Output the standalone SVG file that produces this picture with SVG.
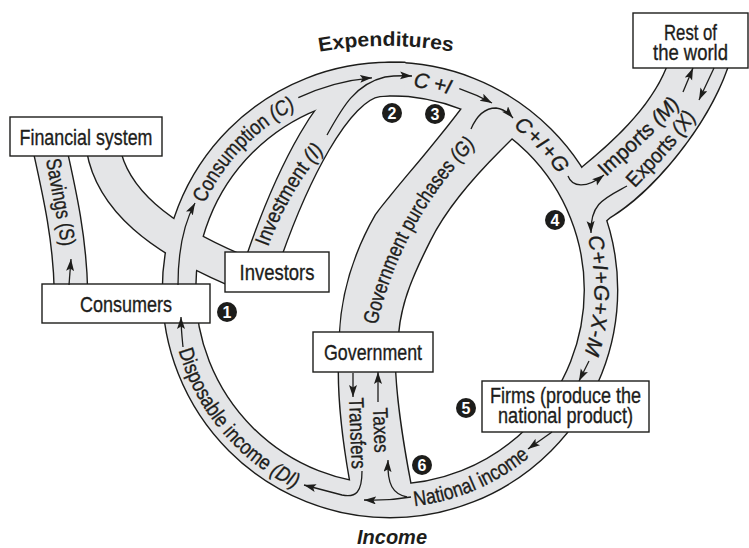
<svg xmlns="http://www.w3.org/2000/svg" xmlns:xlink="http://www.w3.org/1999/xlink" width="749" height="548" viewBox="0 0 749 548">
<defs>
<style>
.ol{fill:none;stroke:#1d1d1b;stroke-width:34.8}
.gf{fill:none;stroke:#e4e5e7;stroke-width:32}
.so{fill:#1d1d1b;stroke:#1d1d1b;stroke-width:2.8;stroke-linejoin:round}
.sf{fill:#e4e5e7;stroke:none}
.box{fill:#fff;stroke:#1d1d1b;stroke-width:1.4}
.t{font-family:"Liberation Sans",Arial,sans-serif;font-size:21px;fill:#1d1d1b;stroke:#1d1d1b;stroke-width:0.35}
.bt{font-family:"Liberation Sans",Arial,sans-serif;font-size:22px;fill:#1d1d1b;stroke:#1d1d1b;stroke-width:0.35;text-anchor:middle}
.i{font-style:italic}
.ar{fill:none;stroke:#1d1d1b;stroke-width:1.3;marker-end:url(#ah)}
.nc{fill:#1d1d1b}
.nt{font-family:"Liberation Sans",Arial,sans-serif;font-size:16px;font-weight:bold;fill:#fff;text-anchor:middle}
.hd{font-family:"Liberation Sans",Arial,sans-serif;font-size:20px;font-weight:bold;fill:#1d1d1b}
</style>
<marker id="ah" markerWidth="13" markerHeight="9" refX="12" refY="4" orient="auto" markerUnits="userSpaceOnUse"><path d="M0,0 L12,4 L0,8 L2.5,4 z" fill="#1d1d1b"/></marker>
<circle id="b-ring" cx="390" cy="290" r="211"/>
<path id="b-sav" d="M50,150 C60,195 70,240 71,292"/>
<path id="b-fin" d="M103,148 C112,200 160,238 235,270"/>
<path id="b-inv" d="M262,262 C290,180 335,85 378,80 A211,211 0 0 1 405,79"/>
<path id="b-gov" d="M353,506 L350,479 C344,445 339,405 339,372 L340,335 C342,290 356,250 376,215 C400,183 440,140 472,95 L522,128 L500,150 C470,180 445,210 430,240 C414,272 401,300 398,333 L395,372 C397,410 404,450 410,482 L413,506 Z"/>
<path id="b-imp" d="M575,175 L583,167 C610,145 650,110 667,68 L672,56 L732,56 L727,68 C705,130 650,193 610,217 L602,224 Z"/>
<path id="p-sav" d="M46,160 C51,190 59,225 63,258"/>
<path id="p-con" d="M204.7,203.6 A204.5,204.5 0 0 1 313.4,100.4"/>
<path id="p-inv" d="M268,247 C283,207 303,172 332,142"/>
<path id="p-ci" d="M413.1,86.8 A204.5,204.5 0 0 1 466.6,100.4"/>
<path id="p-cig" d="M513.1,126.7 A204.5,204.5 0 0 1 575.3,203.6"/>
<path id="p-all" d="M587.5,237.1 A204.5,204.5 0 0 1 579.6,366.6"/>
<path id="p-nat" d="M414.6,506.1 A217.5,217.5 0 0 0 556.6,429.8"/>
<path id="p-di" d="M178.5,350.6 A220,220 0 0 0 322,499.2"/>
<path id="p-gov" d="M377,325 C390,268 420,200 478,143"/>
<path id="p-imp" d="M606,177 C631,153 664,127 693,89"/>
<path id="p-exp" d="M635,188 C656,166 681,141 703,107"/>
<path id="p-tax" d="M373,408 L375,462"/>
<path id="p-tra" d="M349,398 L352,476"/>
<path id="p-title" d="M318,52 A380,380 0 0 1 454,52"/>
</defs>
<rect width="749" height="548" fill="#fff"/>

<g id="bands">
<g id="band-outlines">
<use xlink:href="#b-ring" class="ol"/>
<use xlink:href="#b-sav" class="ol"/>
<use xlink:href="#b-fin" class="ol"/>
<use xlink:href="#b-inv" class="ol"/>
<use xlink:href="#b-gov" class="so"/>
<use xlink:href="#b-imp" class="so"/>
</g>
<g id="band-fills">
<use xlink:href="#b-ring" class="gf"/>
<use xlink:href="#b-sav" class="gf"/>
<use xlink:href="#b-fin" class="gf"/>
<use xlink:href="#b-inv" class="gf"/>
<use xlink:href="#b-gov" class="sf"/>
<use xlink:href="#b-imp" class="sf"/>
</g>
</g>

<g id="financial"><rect class="box" x="10" y="117" width="152" height="39"/><text class="bt" x="86" y="144.5" textLength="133" lengthAdjust="spacingAndGlyphs">Financial system</text></g>
<g id="consumers"><rect class="box" x="42" y="284" width="168" height="39"/><text class="bt" x="126" y="311.5" textLength="92" lengthAdjust="spacingAndGlyphs">Consumers</text></g>
<g id="investors"><rect class="box" x="225" y="252" width="104" height="40"/><text class="bt" x="277" y="280" textLength="75" lengthAdjust="spacingAndGlyphs">Investors</text></g>
<g id="government"><rect class="box" x="313" y="332" width="120" height="40"/><text class="bt" x="373" y="360" textLength="98" lengthAdjust="spacingAndGlyphs">Government</text></g>
<g id="firms"><rect class="box" x="482" y="381" width="167" height="51"/><text class="bt" x="565.5" y="402.5" textLength="151" lengthAdjust="spacingAndGlyphs">Firms (produce the</text><text class="bt" x="565.5" y="422.5" textLength="135" lengthAdjust="spacingAndGlyphs">national product)</text></g>
<g id="rest-of-world"><rect class="box" x="633" y="13" width="115" height="55"/><text class="bt" x="690.5" y="40" textLength="53" lengthAdjust="spacingAndGlyphs">Rest of</text><text class="bt" x="690.5" y="60" textLength="75" lengthAdjust="spacingAndGlyphs">the world</text></g>

<g id="connectors">
<path class="ar" d="M69,285 L71,259"/>
<path class="ar" d="M178,285 C178,255 183,225 195,203"/>
<path class="ar" d="M298.3,97.7 A213,213 0 0 1 372,77.8"/>
<path class="ar" d="M327,135 C342,108 355,84 385,77 C395,75.5 402,75.5 412,76"/>
<path class="ar" d="M459.3,88.6 A213,213 0 0 1 492,103"/>
<path class="ar" d="M471,129 Q480,108 496,108 Q505,109 513,118"/>
<path class="ar" d="M568,176 C572,187 586,189 604,175"/>
<path class="ar" d="M683,92 L693,68"/>
<path class="ar" d="M714,68 L699,100"/>
<path class="ar" d="M627,186 C605,198 590,203 591,233"/>
<path class="ar" d="M589,361 L579,381"/>
<path class="ar" d="M552,432 L528,449"/>
<path class="ar" d="M411,497 Q388,501 364,500"/>
<path class="ar" d="M407,497 C393,494 387,485 388,460"/>
<path class="ar" d="M378,402 L378,372"/>
<path class="ar" d="M353,373 L353,397"/>
<path class="ar" d="M362,471 C362,492 356,498 342,495 L304,485"/>
<path class="ar" d="M183,347 C182,337 181,328 181,317"/>
</g>

<g id="labels">
<text class="t"><textPath xlink:href="#p-sav" textLength="88" lengthAdjust="spacingAndGlyphs">Savings (S)</textPath></text>
<text class="t"><textPath xlink:href="#p-con" textLength="134" lengthAdjust="spacingAndGlyphs">Consumption <tspan class="i">(C)</tspan></textPath></text>
<text class="t"><textPath xlink:href="#p-inv" textLength="112" lengthAdjust="spacingAndGlyphs">Investment <tspan class="i">(I)</tspan></textPath></text>
<text class="t i"><textPath xlink:href="#p-ci" textLength="37" lengthAdjust="spacing">C +I</textPath></text>
<text class="t"><textPath xlink:href="#p-gov" textLength="208" lengthAdjust="spacingAndGlyphs">Government purchases <tspan class="i">(G)</tspan></textPath></text>
<text class="t i"><textPath xlink:href="#p-cig" textLength="66" lengthAdjust="spacing">C+I+G</textPath></text>
<text class="t"><textPath xlink:href="#p-imp" textLength="104" lengthAdjust="spacingAndGlyphs">Imports <tspan class="i">(M)</tspan></textPath></text>
<text class="t"><textPath xlink:href="#p-exp" textLength="94" lengthAdjust="spacingAndGlyphs">Exports <tspan class="i">(X)</tspan></textPath></text>
<text class="t i"><textPath xlink:href="#p-all" textLength="118" lengthAdjust="spacing">C+I+G+X-M</textPath></text>
<text class="t"><textPath xlink:href="#p-nat" textLength="127" lengthAdjust="spacingAndGlyphs">National income</textPath></text>
<text class="t"><textPath xlink:href="#p-di" textLength="186" lengthAdjust="spacingAndGlyphs">Disposable income <tspan class="i">(DI)</tspan></textPath></text>
<text class="t"><textPath xlink:href="#p-tax" textLength="45" lengthAdjust="spacingAndGlyphs">Taxes</textPath></text>
<text class="t"><textPath xlink:href="#p-tra" textLength="71" lengthAdjust="spacingAndGlyphs">Transfers</textPath></text>
<text class="hd"><textPath xlink:href="#p-title" startOffset="50%" text-anchor="middle" textLength="134" lengthAdjust="spacingAndGlyphs">Expenditures</textPath></text>
<text class="hd i" x="392" y="544" text-anchor="middle">Income</text>
</g>

<g id="steps">
<g id="step1"><circle class="nc" cx="227" cy="312" r="10"/><text class="nt" x="227" y="317.5">1</text></g>
<g id="step2"><circle class="nc" cx="392" cy="113" r="10"/><text class="nt" x="392" y="118.5">2</text></g>
<g id="step3"><circle class="nc" cx="435" cy="114" r="10"/><text class="nt" x="435" y="119.5">3</text></g>
<g id="step4"><circle class="nc" cx="555" cy="220" r="10"/><text class="nt" x="555" y="225.5">4</text></g>
<g id="step5"><circle class="nc" cx="466" cy="408" r="10"/><text class="nt" x="466" y="413.5">5</text></g>
<g id="step6"><circle class="nc" cx="422" cy="465" r="10"/><text class="nt" x="422" y="470.5">6</text></g>
</g>
</svg>
